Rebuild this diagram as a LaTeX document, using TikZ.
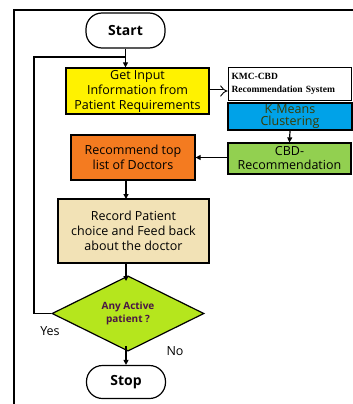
\documentclass[tikz,border=0pt]{standalone}
\usepackage{fontspec}
\setmainfont{Open Sans}
\newfontfamily\kmcfont{Liberation Serif}
\usetikzlibrary{shapes.geometric,arrows.meta}
\definecolor{cyel}{HTML}{FFF200}
\definecolor{corange}{HTML}{F47B20}
\definecolor{cblue}{HTML}{00A2E8}
\definecolor{cgreen}{HTML}{92D050}
\definecolor{cwheat}{HTML}{F2E2B6}
\definecolor{clime}{HTML}{B5E61D}
\definecolor{colive}{HTML}{3A3A00}
\definecolor{cpurple}{HTML}{4A1545}
\begin{document}
\begin{tikzpicture}[x=1pt,y=-1pt,
  box/.style={draw,line width=1.2pt,inner sep=0pt,align=center,font=\fontsize{12.5}{15}\selectfont},
  term/.style={draw,line width=1.2pt,rounded corners=16pt,inner sep=0pt,font=\fontsize{14}{16}\selectfont\bfseries},
  arr/.style={line width=1.2pt,-{Triangle[length=5pt,width=5pt]}},
  lin/.style={line width=1.2pt}]
\useasboundingbox (0,0) rectangle (353,404);
\draw[line width=2pt] (14,10) rectangle (380,430);
\node[term,minimum width=79pt,minimum height=35pt] (start) at (125.5,30.5) {Start};
\node[box,fill=cyel,minimum width=143pt,minimum height=46pt] (in) at (137.5,91) {Get Input\\Information from\\Patient Requirements};
\node[draw,line width=0.7pt,fill=white,inner sep=0pt,minimum width=123pt,minimum height=33pt,align=left,font=\kmcfont\bfseries\fontsize{9.5}{13}\selectfont,text width=116pt] (kmc) at (289.5,84) {KMC-CBD\\Recommendation System};
\node[box,fill=cblue,text=colive,minimum width=124pt,minimum height=27pt,font=\fontsize{12.5}{12.5}\selectfont] (km) at (290,116.5) {K-Means\\Clustering};
\node[box,fill=cgreen,minimum width=123pt,minimum height=31pt,font=\fontsize{12.5}{14}\selectfont] (cbd) at (289.5,158.5) {CBD-\\Recommendation};
\node[box,fill=corange,minimum width=124pt,minimum height=45pt] (rec) at (133,157.5) {Recommend top\\list of Doctors};
\node[box,fill=cwheat,minimum width=151pt,minimum height=64pt] (rp) at (133.5,231) {Record Patient\\choice and Feed back\\about the doctor};
\node[diamond,draw,line width=1.2pt,fill=clime,inner sep=0pt,minimum width=152pt,minimum height=65pt,align=center,text=cpurple,font=\fontsize{10}{12.5}\selectfont\bfseries] (dec) at (128,313.5) {Any Active\\patient ?};
\node[term,minimum width=79pt,minimum height=33pt] (stop) at (126,382) {Stop};
\coordinate (loop) at (34,57);
\draw[arr] (start.south) -- (start.south |- in.north);
\draw[lin] (dec.west) -- (dec.west -| loop) -- (loop) -- (loop -| start.south);
\draw[line width=0.9pt,double,double distance=3pt,-{Implies}] (in.east) -- (kmc.west |- in.east);
\draw[arr] (km.south) -- (cbd.north);
\draw[arr] (cbd.west |- rec.east) -- (rec.east);
\draw[arr] (126,180) -- (126,199);
\draw[arr] (126,263) -- (126,281);
\draw[arr] (126,346) -- (stop.north -| 126,0);
\node[font=\fontsize{12.5}{14}\selectfont] (yes) at (50,331) {Yes};
\node[font=\fontsize{12.5}{14}\selectfont] (no) at (175,351) {No};
\end{tikzpicture}
\end{document}
